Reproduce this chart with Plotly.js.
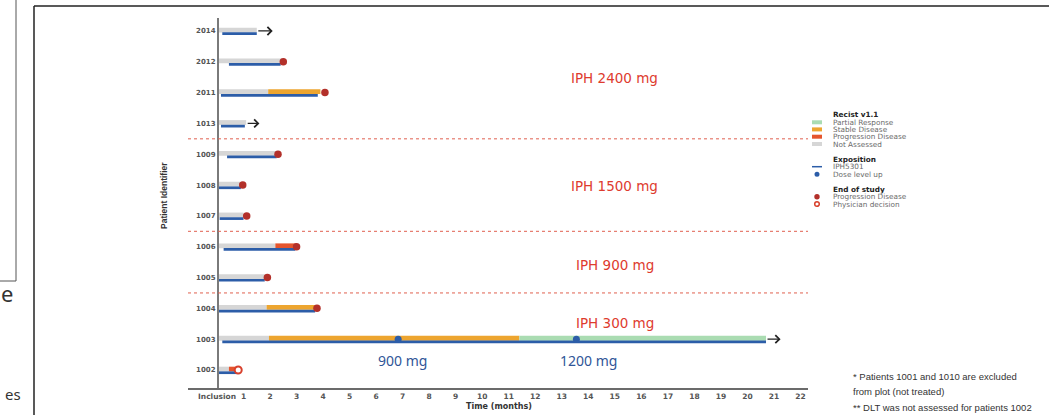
<!DOCTYPE html>
<html>
<head>
<meta charset="utf-8">
<script src="https://cdn.plot.ly/plotly-3.0.1.min.js"></script>
<style>
html,body{margin:0;padding:0;background:#fff;}
#chart{width:1049px;height:415px;}
</style>
</head>
<body>
<div id="chart"></div>
<script>
// ---------------- DATA ----------------
const patients = ["1002","1003","1004","1005","1006","1007","1008","1009","1013","2011","2012","2014"];
const notAssessedEnd = [0.45, 1.96, 1.87, 1.8, 2.2, 1.0, 0.87, 2.26, 1.1, 1.93, 2.45, 1.5];
const stableEnd      = [null, 11.4, 3.7, null, null, null, null, null, null, 3.9, null, null];
const progressionEnd = [0.78, null, null, null, 3.0, null, null, null, null, null, null, null];
const partialEnd     = [null, 20.7, null, null, null, null, null, null, null, null, null, null];
const exposureStart  = [0, 0.2, 0, 0, 0.25, 0.1, 0, 0.38, 0.15, 0.15, 0.45, 0.2];
const exposureEnd    = [0.8, 20.7, 3.7, 1.8, 2.95, 1.0, 0.9, 2.25, 1.05, 3.8, 2.4, 1.5];

const eosPDPatients = ["1004","1005","1006","1007","1008","1009","2011","2012"];
const eosPDTime     = [3.77, 1.9, 3.0, 1.12, 0.97, 2.3, 4.07, 2.5];
const eosPhysPatients = ["1002"];
const eosPhysTime     = [0.8];

const ongoingPatients = ["1003","1013","2014"];
const ongoingFrom     = [20.7, 1.1, 1.5];
const ongoingTo       = [21.25, 1.6, 2.1];

const doseUpPatients = ["1003","1003"];
const doseUpTime     = [6.83, 13.55];
const doseUpLabels   = ["900 mg","1200 mg"];
const doseUpLabelX   = [6.98, 13.99];

const groupNames    = ["IPH 300 mg","IPH 900 mg","IPH 1500 mg","IPH 2400 mg"];
const groupFirst    = ["1002","1005","1007","1013"];
const groupLabelRow = [1.525, 3.41, 5.97, 9.47];

const xTickVals = [0,1,2,3,4,5,6,7,8,9,10,11,12,13,14,15,16,17,18,19,20,21,22];
const xTickText = ["Inclusion","1","2","3","4","5","6","7","8","9","10","11","12","13","14","15","16","17","18","19","20","21","22"];

const legendRecist = ["Partial Response","Stable Disease","Progression Disease","Not Assessed"];
const footnotes = ["* Patients 1001 and 1010 are excluded","from plot (not treated)","** DLT was not assessed for patients 1002"];

// ---------------- STYLE ----------------
const C = {
  na:'#d6d6d6', sd:'#eda52f', pd:'#e5552d', pr:'#aadcb2',
  exp:'#2c5da8', eos:'#b3302a', phys:'#d8402c', dash:'#e0604f'
};
const W = 1049, H = 415;
const px = v => v / W;
const py = v => 1 - v / H;
const row = p => patients.indexOf(p);
const RESP_OFF = 0.03, RESP_W = 0.155, EXP_OFF = -0.088, EXP_W = 0.088;

function segTrace(starts, ends, color){
  const y=[], base=[], x=[];
  patients.forEach((p,i)=>{
    if(ends[i]!=null && starts[i]!=null){ y.push(i+RESP_OFF); base.push(starts[i]); x.push(ends[i]-starts[i]); }
  });
  return {type:'bar', orientation:'h', y, base, x, width:RESP_W, marker:{color, line:{width:0}}, hoverinfo:'skip'};
}

const naStart = patients.map(()=>0);
const sdStart = patients.map((p,i)=> stableEnd[i]!=null ? notAssessedEnd[i] : null);
const pdStart = patients.map((p,i)=> progressionEnd[i]!=null ? (stableEnd[i]!=null?stableEnd[i]:notAssessedEnd[i]) : null);
const prStart = patients.map((p,i)=> partialEnd[i]!=null ? (stableEnd[i]!=null?stableEnd[i]:notAssessedEnd[i]) : null);

const traces = [
  segTrace(naStart, notAssessedEnd, C.na),
  segTrace(sdStart, stableEnd, C.sd),
  segTrace(pdStart, progressionEnd, C.pd),
  segTrace(prStart, partialEnd, C.pr),
  {type:'bar', orientation:'h', y:patients.map((p,i)=>i+EXP_OFF), base:exposureStart,
   x:exposureEnd.map((e,i)=>e-exposureStart[i]), width:EXP_W, marker:{color:C.exp}, hoverinfo:'skip'},
  {type:'scatter', mode:'markers', x:eosPDTime, y:eosPDPatients.map(row),
   marker:{symbol:'circle', size:7.5, color:C.eos}, hoverinfo:'skip'},
  {type:'scatter', mode:'markers', x:eosPhysTime, y:eosPhysPatients.map(row),
   marker:{symbol:'circle', size:7, color:'#ffffff', line:{color:C.phys, width:2}}, hoverinfo:'skip'},
  {type:'scatter', mode:'markers', x:doseUpTime, y:doseUpPatients.map(row),
   marker:{symbol:'circle', size:7, color:C.exp}, hoverinfo:'skip'}
];

// ---------------- SHAPES / ANNOTATIONS ----------------
const XMIN = -1.0934, XMAX = 22.283;
const shapes = [];
const annotations = [];

groupFirst.slice(1).forEach(p=>{
  const yv = row(p) - 0.5;
  shapes.push({type:'line', xref:'x', yref:'y', x0:XMIN, x1:XMAX, y0:yv, y1:yv,
    line:{color:C.dash, width:1, dash:'3px,3px'}});
});
groupNames.forEach((g,i)=>{
  annotations.push({xref:'x', yref:'y', x:15, y:groupLabelRow[i], text:g, showarrow:false,
    font:{family:'DejaVu Sans, Arial', size:13.5, color:'#de3b2e'}, xanchor:'center', yanchor:'middle'});
});
doseUpLabels.forEach((t,i)=>{
  annotations.push({xref:'x', yref:'y', x:doseUpLabelX[i], y:row(doseUpPatients[i]) - 0.7, text:t, showarrow:false,
    font:{family:'Noto Sans, Open Sans', size:14, color:'#2f5597'}, xanchor:'center', yanchor:'middle'});
});
ongoingPatients.forEach((p,i)=>{
  annotations.push({xref:'x', yref:'y', axref:'x', ayref:'y', x:ongoingTo[i], y:row(p), ax:ongoingFrom[i], ay:row(p),
    text:'', showarrow:true, arrowhead:4, arrowsize:1.3, arrowwidth:1.2, arrowcolor:'#222'});
});

annotations.push({xref:'paper', yref:'paper', x:px(499), y:py(406), text:'Time (months)', showarrow:false,
  font:{family:'DejaVu Sans, Arial', size:8, color:'#333', weight:'bold'}, xanchor:'center', yanchor:'middle'});
annotations.push({xref:'paper', yref:'paper', x:px(164), y:py(196), text:'Patient Identifier', showarrow:false, textangle:-90,
  font:{family:'Liberation Sans, Arial', size:8.5, color:'#333', weight:'bold'}, xanchor:'center', yanchor:'middle'});

shapes.push({type:'line', xref:'paper', yref:'paper', x0:px(34), x1:px(34), y0:py(6), y1:py(420), line:{color:'#222', width:1.5}});
shapes.push({type:'line', xref:'paper', yref:'paper', x0:px(34), x1:px(1055), y0:py(6), y1:py(6), line:{color:'#222', width:1.5}});
shapes.push({type:'line', xref:'paper', yref:'paper', x0:px(16), x1:px(16), y0:py(-5), y1:py(281), line:{color:'#555', width:1}});
shapes.push({type:'line', xref:'paper', yref:'paper', x0:px(-5), x1:px(16), y0:py(281), y1:py(281), line:{color:'#555', width:1}});
annotations.push({xref:'paper', yref:'paper', x:px(15), y:py(293), text:'e', showarrow:false,
  font:{family:'Noto Sans, Open Sans', size:22, color:'#333'}, xanchor:'right', yanchor:'middle'});
annotations.push({xref:'paper', yref:'paper', x:px(3), y:py(394), text:'es', showarrow:false,
  font:{family:'Noto Sans, Open Sans', size:15, color:'#333'}, xanchor:'left', yanchor:'middle'});

const footY = [376, 391, 407];
footnotes.forEach((t,i)=>{
  annotations.push({xref:'paper', yref:'paper', x:px(851), y:py(footY[i]), text:t, showarrow:false,
    font:{family:'Liberation Sans, Arial', size:9.5, color:'#333'}, xanchor:'left', yanchor:'middle'});
});

const LX = 831, SW0 = 812, SW1 = 822;
const lg = (t,y,bold)=>annotations.push({xref:'paper', yref:'paper', x:px(LX), y:py(y), text:t, showarrow:false,
  font:{family:'DejaVu Sans, Arial', size:7.3, color: bold?'#222':'#6a6a6a', weight: bold?'bold':'normal'}, xanchor:'left', yanchor:'middle'});
lg('Recist v1.1',114,true);
const recistColors = [C.pr, C.sd, C.pd, C.na];
const recistY = [122.3,129.4,136.7,144];
legendRecist.forEach((t,i)=>{
  lg(t, recistY[i], false);
  shapes.push({type:'rect', xref:'paper', yref:'paper', x0:px(SW0), x1:px(SW1), y0:py(recistY[i]-2), y1:py(recistY[i]+2),
    fillcolor:recistColors[i], line:{width:0}});
});
lg('Exposition',159.3,true);
lg('IPH5301',166.7,false);
shapes.push({type:'line', xref:'paper', yref:'paper', x0:px(SW0), x1:px(SW1), y0:py(166.7), y1:py(166.7), line:{color:C.exp, width:1.5}});
lg('Dose level up',174.3,false);
shapes.push({type:'circle', xref:'paper', yref:'paper', x0:px(814.5), x1:px(819.5), y0:py(171.8), y1:py(176.8), fillcolor:C.exp, line:{width:0}});
lg('End of study',189.3,true);
lg('Progression Disease',196.7,false);
shapes.push({type:'circle', xref:'paper', yref:'paper', x0:px(814.3), x1:px(819.7), y0:py(194), y1:py(199.4), fillcolor:C.eos, line:{width:0}});
lg('Physician decision',204,false);
shapes.push({type:'circle', xref:'paper', yref:'paper', x0:px(814.7), x1:px(819.3), y0:py(201.7), y1:py(206.3), fillcolor:'#fff', line:{color:C.phys, width:1.5}});

const layout = {
  width:W, height:H,
  margin:{l:0,r:0,t:0,b:0},
  paper_bgcolor:'#ffffff', plot_bgcolor:'rgba(0,0,0,0)',
  showlegend:false, barmode:'overlay', hovermode:false,
  xaxis:{domain:[px(188), px(808)], range:[XMIN, XMAX], showline:true, linecolor:'#6b6b6b', linewidth:1.5,
    showgrid:false, zeroline:false, tickmode:'array', tickvals:xTickVals, ticktext:xTickText, ticks:'',
    tickfont:{family:'DejaVu Sans, Arial', size:7.5, color:'#555', weight:'bold'}, fixedrange:true},
  yaxis:{domain:[1-388/H, 1-18/H], range:[-0.584, 11.42], anchor:'free', position:px(217),
    showline:true, linecolor:'#7a7a7a', linewidth:1.5, showgrid:false, zeroline:false,
    tickmode:'array', tickvals:patients.map((p,i)=>i), ticktext:patients, ticks:'',
    tickfont:{family:'DejaVu Sans, Arial', size:7, color:'#555', weight:'bold'}, fixedrange:true},
  shapes, annotations
};

Plotly.newPlot('chart', traces, layout, {staticPlot:true, displayModeBar:false});
</script>
</body>
</html>
